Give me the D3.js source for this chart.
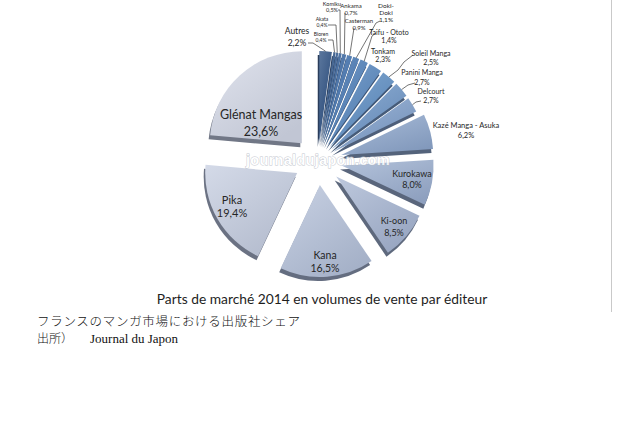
<!DOCTYPE html>
<html><head><meta charset="utf-8">
<script src="https://cdn.jsdelivr.net/npm/d3@7/dist/d3.min.js"></script>
<style>html,body{margin:0;padding:0;background:#fff;}svg{display:block;}</style>
</head><body>
<svg id="chart" width="640" height="426"></svg>
<script>
// ---- data ----
const publishers = ["Autres","Bioren","Akata","Komiku","Ankama","Casterman","Doki-Doki","Taifu - Ototo","Tonkam","Soleil Manga","Panini Manga","Delcourt","Kazé Manga  - Asuka","Kurokawa","Ki-oon","Kana","Pika","Glénat Mangas"];
const shares = [2.2,0.4,0.4,0.5,0.7,0.9,1.1,1.4,2.3,2.5,2.7,2.7,6.2,8.0,8.5,16.5,19.4,23.6];
const labelLines = [["Autres"],["Bioren"],["Akata"],["Komiku"],["Ankama"],["Casterman"],["Doki-","Doki"],["Taifu - Ototo"],["Tonkam"],["Soleil Manga"],["Panini Manga"],["Delcourt"],["Kazé Manga  - Asuka"],["Kurokawa"],["Ki-oon"],["Kana"],["Pika"],["Glénat Mangas"]];
const chartTitle = "Parts de marché 2014 en volumes de vente par éditeur";
const captionJa = "フランスのマンガ市場における出版社シェア";
const sourceLabel = "出所）";
const sourceName = "Journal du Japon";
const watermark = "journaldujapon.com";

// ---- layout (styles / positions, not data) ----
const labelLayout = [
  {x:297,y:31,lh:12,fs:8.5, lead:[[308,43],[313,43]]},
  {x:321,y:34,lh:6.5,fs:5, lead:[[328,40],[333,40]]},
  {x:322,y:19,lh:6.5,fs:5, lead:[[328,25],[336,25]]},
  {x:332,y:4,lh:6.5,fs:5.5, lead:[[338,10],[340,10]]},
  {x:351,y:6,lh:7,fs:6, lead:[[345,13]]},
  {x:359,y:21,lh:7,fs:6, lead:[[354,28]]},
  {x:386,y:6,lh:7,fs:6.5, lead:[[380,21],[376,23]]},
  {x:389,y:33,lh:8,fs:7, lead:[[376,33],[372,36]]},
  {x:383,y:52,lh:8,fs:7, lead:null},
  {x:431,y:54,lh:8.5,fs:7, lead:[[413,55],[404,62],[398,70]]},
  {x:422,y:73,lh:10,fs:7, lead:[[415,83],[408,85]]},
  {x:431,y:92,lh:9,fs:7, lead:[[421,101],[416,102]]},
  {x:466,y:125,lh:10,fs:7.5, lead:null},
  {x:412,y:174,lh:11,fs:9, lead:null},
  {x:394,y:221,lh:12,fs:9, lead:null},
  {x:325,y:255,lh:13,fs:10.5, lead:null},
  {x:232,y:200,lh:13.5,fs:11, lead:null},
  {x:261,y:115,lh:17,fs:12.5, lead:null}
];

const svg = d3.select("#chart");
const cx = 318, cy = 161, R = 92;
const fmt = v => d3.format(".1f")(v).replace(".", ",") + "%";

const pie = d3.pie().sort(null).value(d => d)(shares);
const arc = d3.arc().innerRadius(0).outerRadius(R);
const colorScale = d3.scaleLinear()
  .domain([0, 5, 9, 12, 14, 17])
  .range(["#24497c", "#3a6cab", "#5a8bc2", "#8ea7cc", "#a7b6d2", "#d5dae7"])
  .interpolate(d3.interpolateRgb);
const explode = i => shares[i] >= 6 ? 24 : 18;
const dir = a => [Math.sin(a), -Math.cos(a)];

// frame line on the right
svg.append("line").attr("x1",611.5).attr("x2",611.5).attr("y1",0).attr("y2",312)
  .attr("stroke","#c9c9c9").attr("stroke-width",1);

const defs = svg.append("defs");
pie.forEach((p,i) => {
  const c = d3.color(colorScale(i));
  const g = defs.append("linearGradient").attr("id","g"+i)
    .attr("x1",0).attr("y1",0).attr("x2",0.7).attr("y2",1);
  g.append("stop").attr("offset",0).attr("stop-color", d3.interpolateRgb(c, "#ffffff")(0.25));
  g.append("stop").attr("offset",1).attr("stop-color", d3.interpolateRgb(c, "#2c3448")(0.12));
});

const chartG = svg.append("g");
const offsets = pie.map((p,i) => {
  const m = (p.startAngle + p.endAngle)/2, d = dir(m), e = explode(i);
  return [cx + d[0]*e, cy + d[1]*e];
});
// extrusion (3D side)
chartG.selectAll("path.side").data(pie).join("path").attr("class","side")
  .attr("d", arc)
  .attr("transform", (p,i) => `translate(${offsets[i][0]-1.5},${offsets[i][1]+4})`)
  .attr("fill", (p,i) => d3.interpolateRgb(colorScale(i), "#2e3545")(0.6));
// faces
chartG.selectAll("path.face").data(pie).join("path").attr("class","face")
  .attr("d", arc)
  .attr("transform", (p,i) => `translate(${offsets[i][0]},${offsets[i][1]})`)
  .attr("fill", (p,i) => `url(#g${i})`);

// watermark
svg.append("text").attr("x",318).attr("y",165).attr("text-anchor","middle")
  .attr("font-family","'Liberation Sans', Arial, sans-serif").attr("font-weight","bold")
  .attr("font-size",14.5).attr("fill","#ffffff").attr("stroke","#b4b9c4").attr("stroke-width",0.9)
  .attr("paint-order","stroke").attr("opacity",0.8).attr("letter-spacing",0.3).text(watermark);

// leader lines
const outerArc = d3.arc().innerRadius(R).outerRadius(R);
pie.forEach((p,i) => {
  const L = labelLayout[i];
  if (!L.lead) return;
  const c = outerArc.centroid(p);
  const end = [offsets[i][0] + c[0], offsets[i][1] + c[1]];
  const pts = L.lead.concat([end]);
  svg.append("path").attr("d", d3.line()(pts)).attr("fill","none")
    .attr("stroke","#3a3a3a").attr("stroke-width",0.7);
});

// labels
const fontUI = "Lato, 'Open Sans', sans-serif";
pie.forEach((p,i) => {
  const L = labelLayout[i];
  const lines = labelLines[i].concat([fmt(shares[i])]);
  const t = svg.append("text").attr("text-anchor","middle").attr("font-family",fontUI)
    .attr("font-size",L.fs).attr("fill","#262626");
  lines.forEach((s,k) => {
    t.append("tspan").attr("x",L.x).attr("y",L.y + k*L.lh + L.fs*0.35).text(s);
  });
});

// title
svg.append("text").attr("x",322).attr("y",304).attr("text-anchor","middle")
  .attr("font-family",fontUI).attr("font-size",13.8).attr("fill","#1e1e1e").text(chartTitle);

// captions
svg.append("text").attr("x",37).attr("y",326).attr("font-family","'Noto Sans CJK JP', sans-serif")
  .attr("font-size",12.5).attr("fill","#111").attr("font-weight",300)
  .attr("textLength",263).attr("lengthAdjust","spacing").text(captionJa);
svg.append("text").attr("x",37).attr("y",343).attr("font-family","'Noto Sans CJK JP', sans-serif")
  .attr("font-size",12).attr("fill","#111").attr("font-weight",300).text(sourceLabel);
svg.append("text").attr("x",90).attr("y",343).attr("font-family","'Liberation Serif', serif")
  .attr("font-size",13).attr("font-weight","normal").attr("fill","#111").text(sourceName);
</script>
</body></html>
